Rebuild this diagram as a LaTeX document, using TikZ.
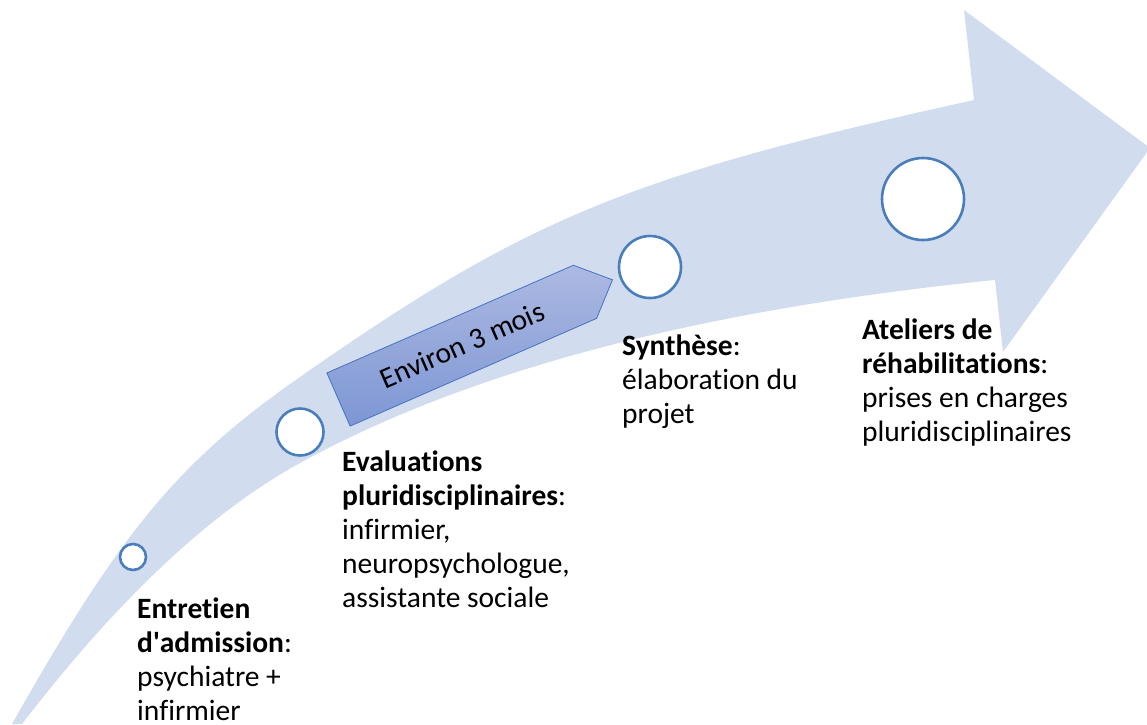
\documentclass[tikz,border=0pt]{standalone}
\usepackage{fontspec}
\setmainfont{Carlito}[Ligatures=NoCommon]
\usetikzlibrary{positioning}

\definecolor{bandblue}{RGB}{209,221,238}
\definecolor{ringblue}{RGB}{74,126,187}
\definecolor{tagtop}{RGB}{172,185,226}
\definecolor{tagbot}{RGB}{125,150,212}
\definecolor{tagline}{RGB}{68,114,196}

\begin{document}
\begin{tikzpicture}[x=1pt, y=-1pt,
    milestone/.style={circle, draw=ringblue, line width=2.6pt, fill=white, inner sep=0pt},
    steptext/.style={anchor=base west, align=left, inner sep=0pt, font=\fontsize{29.5}{34}\selectfont},
    tag/.style={draw=tagline, line width=0.8pt, top color=tagtop, bottom color=tagbot}]
    \useasboundingbox (0,0) rectangle (1147,724);

    % big curved arrow
    \fill[bandblue] (12,724) .. controls (121,531) and (178,462) .. (300,377)
      .. controls (528,217.5) and (629,175.9) .. (974,100)
      -- (964,10) -- (1150,148) -- (1003,352) -- (995,280)
      .. controls (699.7,309.5) and (468,370.6) .. (300,463)
      .. controls (210.7,512) and (118,599) .. (22,724) -- cycle;

    % duration tag
    \begin{scope}[shift={(338.5,399.5)}, rotate=23.6]
      \draw[tag] (0,-29) -- (269,-29) -- (299,0) -- (269,29) -- (0,29) -- cycle;
    \end{scope}
    \node[rotate=23.6, font=\fontsize{29.5}{34}\selectfont] (duree) at (462,345) {Environ 3 mois};

    \node[milestone, minimum size=26pt] (m1) at (133,557) {};
    \node[milestone, minimum size=47pt] (m2) at (300,432) {};
    \node[milestone, minimum size=62pt] (m3) at (650,267) {};
    \node[milestone, minimum size=82pt] (m4) at (923,199) {};

    % base of a multi-line node = last line
    \node[steptext] (entretien) at (137,720) {\textbf{Entretien}\\\textbf{d\textquotesingle admission}:\\psychiatre +\\infirmier};
    \node[steptext] (evaluations) at (342,607) {\textbf{Evaluations}\\\textbf{pluridisciplinaires}:\\infirmier,\\neuropsychologue,\\assistante sociale};
    \node[steptext] (synthese) at (622,423) {\textbf{Synthèse}:\\élaboration du\\projet};
    \node[steptext] (ateliers) at (862,441) {\textbf{Ateliers de}\\\textbf{réhabilitations}:\\prises en charges\\pluridisciplinaires};
\end{tikzpicture}
\end{document}
